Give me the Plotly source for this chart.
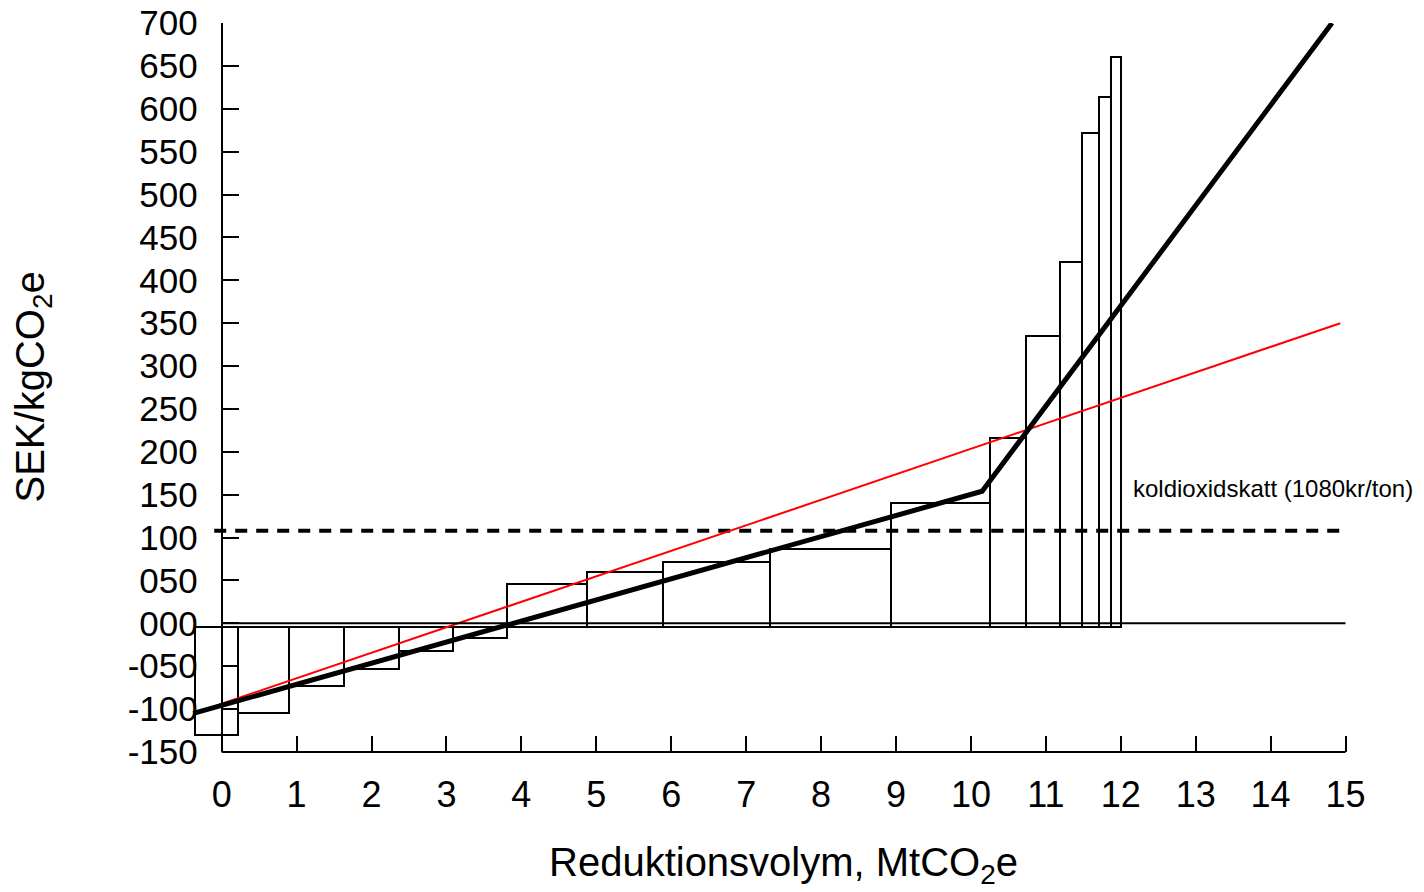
import plotly.graph_objects as go

# Marginal abatement cost steps: cumulative volume edges (MtCO2e) and cost (SEK/kgCO2e)
volume_edges = [-0.356, 0.214, 0.899, 1.637, 2.371, 3.092, 3.813, 4.873, 5.888,
                7.320, 8.932, 10.258, 10.734, 11.183, 11.482, 11.704, 11.873, 12.007]
step_costs = [-130, -105, -73.5, -53, -32, -17, 46, 60, 71, 87, 140, 216, 335, 421, 572, 614, 660]
bar_base = -4.5

# Fitted piecewise-linear cost curve (thick black)
curve_x = [-0.38, 10.15, 14.82]
curve_y = [-105, 154, 700]

# Linear fit (red)
linear_x = [-0.38, 14.93]
linear_y = [-105, 350]

# Carbon dioxide tax level
tax_level = 108
tax_x = [-0.1, 14.96]
tax_label = "koldioxidskatt (1080kr/ton)"

y_tickvals = list(range(-150, 701, 50))
y_ticktext = ["-150", "-100", "-050", "000", "050", "100", "150", "200", "250", "300",
              "350", "400", "450", "500", "550", "600", "650", "700"]
x_tickvals = list(range(0, 16))
x_ticktext = [str(v) for v in x_tickvals]

FONT = "Liberation Sans, Arial, sans-serif"

widths = [volume_edges[i + 1] - volume_edges[i] for i in range(len(step_costs))]
centers = [volume_edges[i] + widths[i] / 2 for i in range(len(step_costs))]
heights = [c - bar_base for c in step_costs]

x_min, x_max = -0.45, 15.02

fig = go.Figure()

fig.add_trace(go.Bar(
    x=centers, y=heights, width=widths, base=bar_base,
    marker=dict(color="white", line=dict(color="black", width=2)),
    showlegend=False, hoverinfo="skip",
))

fig.add_trace(go.Scatter(
    x=tax_x, y=[tax_level, tax_level], mode="lines",
    line=dict(color="black", width=4, dash="12px,9px"),
    showlegend=False, hoverinfo="skip",
))

fig.add_trace(go.Scatter(
    x=linear_x, y=linear_y, mode="lines",
    line=dict(color="#ff0000", width=2),
    showlegend=False,
))

fig.add_trace(go.Scatter(
    x=curve_x, y=curve_y, mode="lines",
    line=dict(color="black", width=5),
    showlegend=False,
))

# zero line from 0 to 15
fig.add_shape(type="line", xref="x", yref="y", x0=0, x1=15, y0=0, y1=0,
              line=dict(color="black", width=2), layer="above")
# x axis line from 0 to 15 at the bottom
fig.add_shape(type="line", xref="x", yref="paper", x0=0, x1=15, y0=0, y1=0,
              line=dict(color="black", width=2), layer="above")

fig.add_annotation(text=tax_label, xref="x", yref="y", x=12.14, y=157,
                   xanchor="left", yanchor="middle", showarrow=False,
                   font=dict(family=FONT, size=24, color="black"))

fig.add_annotation(text="Reduktionsvolym, MtCO<sub>2</sub>e", xref="x", yref="paper",
                   x=7.5, y=0, yshift=-113, xanchor="center", yanchor="middle",
                   showarrow=False, font=dict(family=FONT, size=40, color="black"))

fig.add_annotation(text="SEK/kgCO<sub>2</sub>e", xref="paper", yref="paper",
                   x=0, y=0.5, xshift=-156, textangle=-90, xanchor="center",
                   yanchor="middle", showarrow=False,
                   font=dict(family=FONT, size=40, color="black"))

y_axis_pos = (0 - x_min) / (x_max - x_min)

fig.update_layout(
    width=1424, height=892,
    margin=dict(l=188, r=77, t=23, b=140, autoexpand=False),
    paper_bgcolor="white", plot_bgcolor="white",
    bargap=0,
    xaxis=dict(range=[x_min, x_max], tickvals=x_tickvals, ticktext=x_ticktext,
               ticks="inside", ticklen=16, tickwidth=2, tickcolor="black",
               showline=False, showgrid=False, zeroline=False, automargin=False,
               tickfont=dict(family=FONT, size=36, color="black"),
               ticklabelstandoff=18),
    yaxis=dict(range=[-150, 700], tickvals=y_tickvals, ticktext=y_ticktext,
               anchor="free", position=y_axis_pos, automargin=False,
               ticks="inside", ticklen=16, tickwidth=2, tickcolor="black",
               showline=True, linecolor="black", linewidth=2,
               showgrid=False, zeroline=False,
               tickfont=dict(family=FONT, size=35, color="black"),
               ticklabelstandoff=16),
)

fig.write_html("out.html")
